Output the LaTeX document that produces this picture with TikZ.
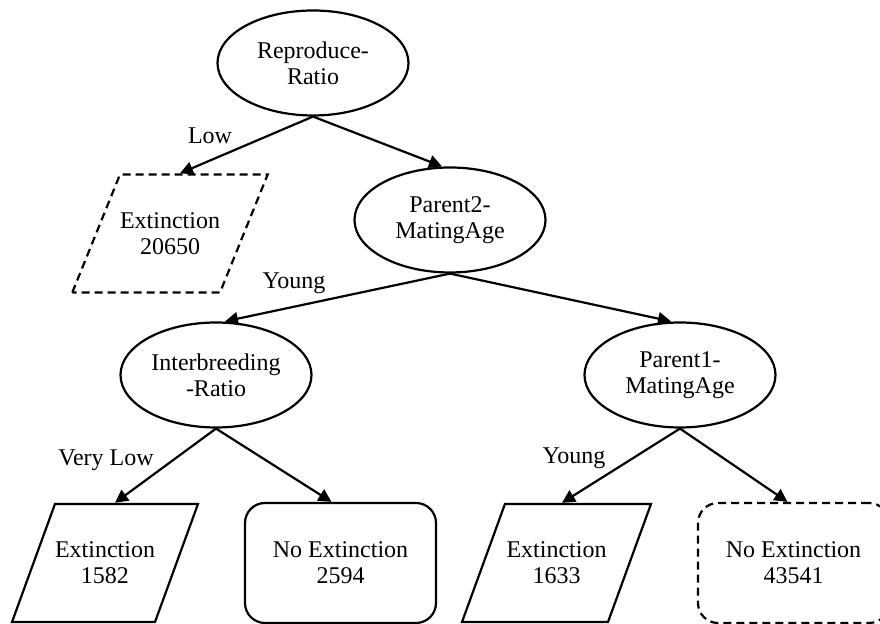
\documentclass[tikz,border=0pt]{standalone}
\usepackage{fontspec}
\setmainfont{Liberation Serif}
\usetikzlibrary{shapes.geometric,arrows.meta}
\begin{document}
\begin{tikzpicture}[x=0.5pt,y=0.5pt,
	every node/.style={font=\fontsize{12}{13}\selectfont,align=center},
	attr/.style={draw,line width=1.1pt,ellipse,minimum width=95.5pt,minimum height=52.5pt,inner sep=0pt},
	leaf/.style={draw,line width=1.1pt,trapezium,trapezium left angle=70,trapezium right angle=110,
		trapezium stretches body,minimum width=93pt,inner xsep=0pt,inner ysep=19pt},
	outcome/.style={draw,line width=1.1pt,rounded corners=10pt,minimum width=95.5pt,minimum height=60pt,inner sep=0pt},
	faint/.style={dash pattern=on 4pt off 2.5pt},
	branch/.style={line width=1.1pt,-{Triangle[length=6.5pt,width=6.5pt]}}]
\useasboundingbox (0,0) rectangle (880,624);
\node[attr] (rr) at (313,561) {Reproduce-\\Ratio};
\node[leaf,faint,trapezium left angle=68,trapezium right angle=112,minimum width=95pt] (e0) at (170,390.5) {Extinction\\20650};
\node[attr] (p2) at (450,404) {Parent2-\\MatingAge};
\node[attr] (ir) at (216,249) {Interbreeding\\-Ratio};
\node[attr] (p1) at (680,249) {Parent1-\\MatingAge};
\node[leaf] (l1) at (105,61) {Extinction\\1582};
\node[outcome] (l2) at (340.5,61) {No Extinction\\2594};
\node[leaf,minimum width=94.5pt] (l3) at (556.5,61) {Extinction\\1633};
\node[outcome,faint] (l4) at (793.5,61) {No Extinction\\43541};
\draw[branch] (rr.south) -- ([xshift=5pt]e0.north);
\draw[branch] (rr.south) -- ([xshift=-4pt]p2.north);
\draw[branch] (p2.south) -- ([xshift=4.5pt]ir.north);
\draw[branch] (p2.south) -- ([xshift=-4.5pt]p1.north);
\draw[branch] (ir.south) -- ([xshift=5pt]l1.north);
\draw[branch] (ir.south) -- ([xshift=-4.5pt]l2.north);
\draw[branch] (p1.south) -- ([xshift=2.75pt]l3.north);
\draw[branch] (p1.south) -- ([xshift=-3pt]l4.north);
\node (lo) at (210,488) {Low};
\node (yg) at (294,341) {Young};
\node (vl) at (106,164) {Very Low};
\node (yb) at (574,166) {Young};
\end{tikzpicture}
\end{document}
